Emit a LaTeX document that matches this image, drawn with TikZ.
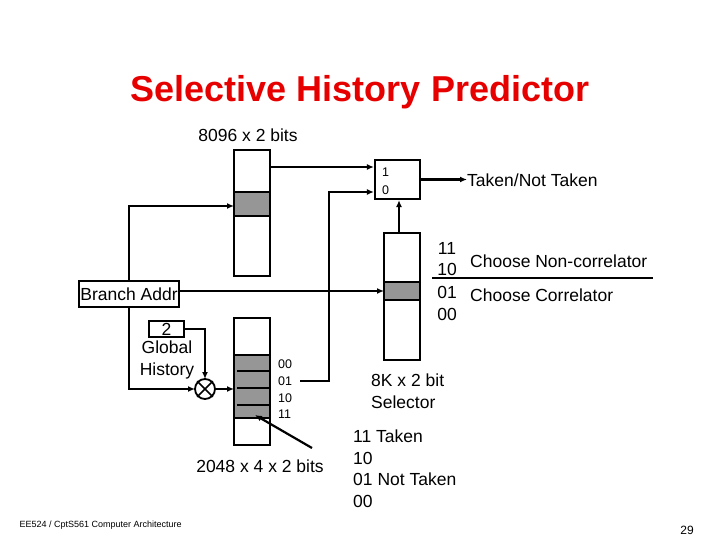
\documentclass[tikz,border=0pt]{standalone}
\usepackage{fontspec}
\setmainfont{Liberation Sans}
\usetikzlibrary{arrows.meta,shapes.misc}
\definecolor{titlered}{RGB}{230,0,0}
\definecolor{band}{RGB}{150,150,150}
\begin{document}
\begin{tikzpicture}[x=1pt,y=-1pt,
  box/.style={draw,line width=2.2pt},
  wire/.style={line width=2.2pt},
  arr/.style={wire,-{Latex[length=7pt,width=6pt]}},
  lbl/.style={font=\fontsize{17.5}{21.5}\selectfont,inner sep=0pt,align=left},
  sm/.style={font=\fontsize{12.5}{14}\selectfont,inner sep=0pt,anchor=west}]
\useasboundingbox (0,0) rectangle (720,540);
\node[font=\fontsize{36}{40}\selectfont\bfseries,text=titlered] (title) at (360,92) {Selective History Predictor};
\node[lbl] (t8096) at (248,135) {8096 x 2 bits};
% top column
\fill[band] (234,192) rectangle (270,216);
\draw[box] (234,150) rectangle (270,276);
\draw[wire] (234,192) -- (270,192) (234,216) -- (270,216);
\coordinate (topin) at (234,206);
\coordinate (topout) at (270,167);
% mux
\node[box,minimum width=45pt,minimum height=39pt,inner sep=0pt] (mux) at (397.5,179.5) {};
\node[sm] (m1) at (382,172) {1};
\node[sm] (m0) at (382,190) {0};
\node[lbl,anchor=west] (tnt) at (467,180) {Taken/Not Taken};
\draw[arr] (mux.east) -- (mux.east -| tnt.west);
\draw[arr] (topout) -- (mux.west |- topout);
% selector
\fill[band] (384,282) rectangle (420,300);
\draw[box] (384,233) rectangle (420,360);
\draw[wire] (384,282) -- (420,282) (384,300) -- (420,300);
\coordinate (selTop) at (399,233);
\draw[arr] (selTop) -- (mux.south -| selTop);
\coordinate (selin) at (384,291);
% selector labels
\node[lbl] (s11) at (447,248) {11};
\node[lbl] (s10) at (447,269) {10};
\node[lbl] (s01) at (447,292) {01};
\node[lbl] (s00) at (447,314) {00};
\node[lbl,anchor=west] (cnc) at (470,261) {Choose Non-correlator};
\node[lbl,anchor=west] (cc) at (470,295) {Choose Correlator};
\draw[wire] (432,278) -- (653,278);
% branch addr
\node[box,lbl,inner xsep=1.5pt,minimum height=26pt] (ba) at (129,294) {Branch Addr};
\draw[arr] (ba.east |- selin) -- (selin);
\draw[arr] (ba.north) -- (129,206) -- (topin);
% global history
\node[box,font=\fontsize{17.5}{19}\selectfont,minimum width=35pt,minimum height=16pt,inner sep=0pt] (gh) at (166.5,329) {2};
\node[lbl,align=center,anchor=north] (ghl) at (167,341) {Global\\History};
\node[draw,line width=1.6pt,circle,cross out,minimum size=14pt,inner sep=0pt] (xo) at (205,389) {};
\node[draw,line width=1.8pt,circle,minimum size=20pt,inner sep=0pt] at (205,389) {};
\draw[arr] (gh.east) -- (205,329) -- (205,379);
\draw[arr] (ba.south) -- (129,389) -- (195,389);
% PHT
\fill[band] (234,355) rectangle (270,418);
\draw[box] (234,318) rectangle (270,445);
\draw[wire] (234,355) -- (270,355) (234,418) -- (270,418);
\draw[wire] (237,371) -- (270,371) (237,388) -- (270,388) (237,405) -- (270,405);
\coordinate (phtin) at (234,389);
\draw[arr] (215,389) -- (phtin);
\node[sm] (p00) at (278,364) {00};
\node[sm] (p01) at (278,381) {01};
\node[sm] (p10) at (278,398) {10};
\node[sm] (p11) at (278,414) {11};
\draw[arr] (300,381) -- (329,381) -- (329,192) -- (mux.west |- 0,192);
\node[lbl] (t2048) at (260,466) {2048 x 4 x 2 bits};
\draw[arr] (312,448) -- (255,415);
\node[lbl,anchor=west] (sel) at (371,391) {8K x 2 bit\\Selector};
\node[lbl,anchor=north west] (tk) at (353,430) {11 Taken\\10\\01 Not Taken\\00};
\node[font=\fontsize{9}{11}\selectfont,anchor=west] (foot) at (16,525) {EE524 / CptS561 Computer Architecture};
\node[font=\fontsize{12}{13}\selectfont] (pg) at (687,530) {29};
\end{tikzpicture}
\end{document}
